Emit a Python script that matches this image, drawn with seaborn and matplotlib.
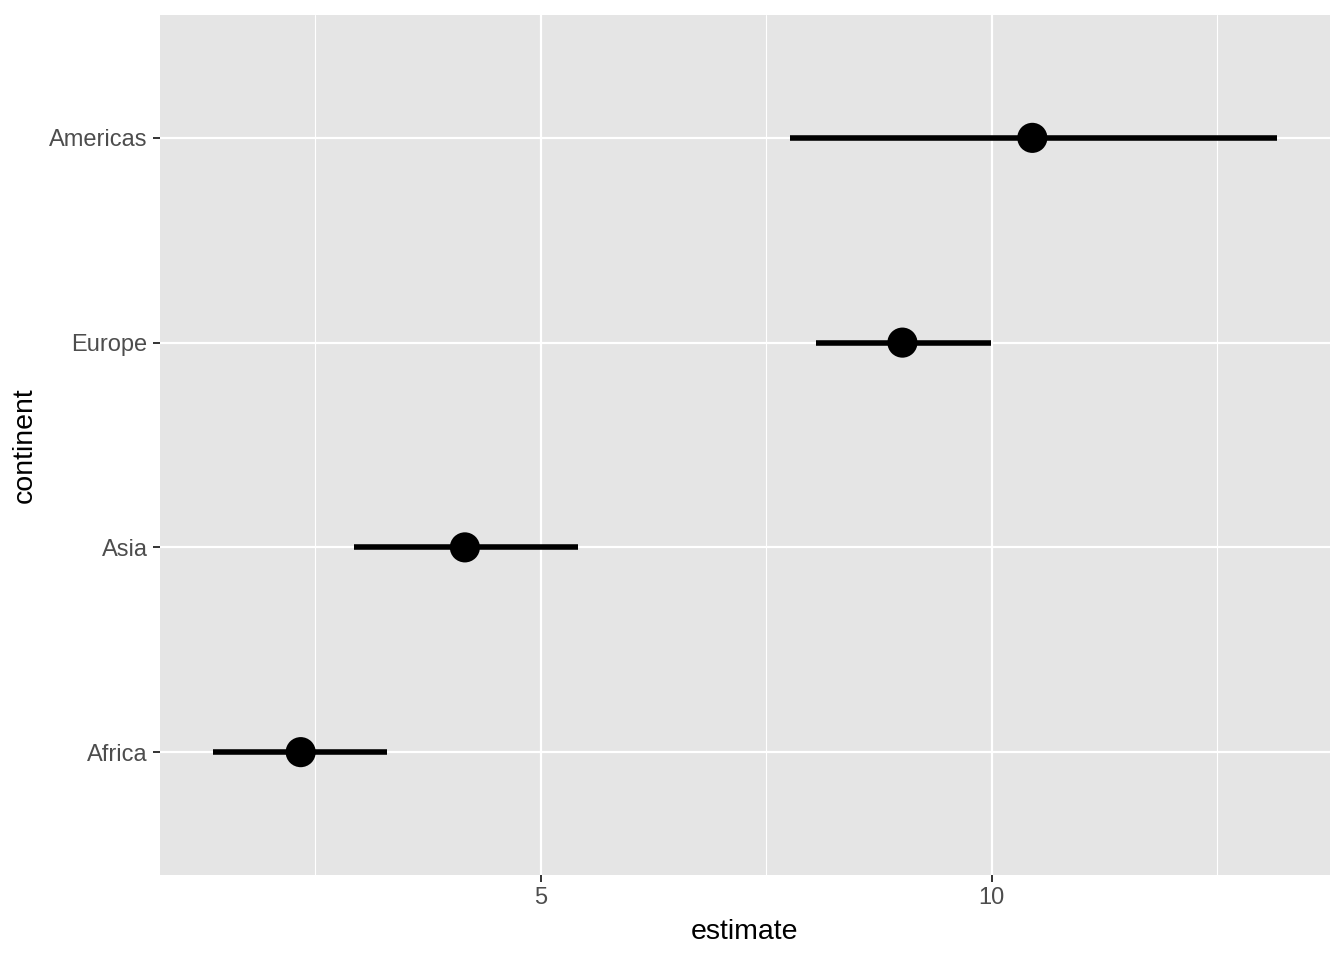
import numpy as np
import matplotlib
matplotlib.use('Agg')
import matplotlib.pyplot as plt
import seaborn as sns
from matplotlib.ticker import MultipleLocator

# 数据
continents = ['Africa', 'Asia', 'Europe', 'Americas']
estimate = [2.34, 4.16, 9.01, 10.45]
lower = [1.37, 2.93, 8.05, 7.76]
upper = [3.30, 5.41, 9.99, 13.16]

sns.set_style('darkgrid', {'axes.facecolor': '#E5E5E5', 'grid.color': 'white'})
plt.rcParams['font.family'] = ['Liberation Sans', 'DejaVu Sans']

fig = plt.figure(figsize=(13.44, 9.6), dpi=100)
ax = fig.add_axes([160 / 1344, 1 - 875 / 960, 1170 / 1344, 860 / 960])

ypos = np.arange(len(continents))
ax.hlines(ypos, lower, upper, color='black', linewidth=4, zorder=3)
sns.scatterplot(x=estimate, y=ypos, color='black', s=470, edgecolor='none', ax=ax, zorder=4)

# 坐标轴范围（ggplot 风格扩展）
span = max(upper) - min(lower)
ax.set_xlim(min(lower) - 0.05 * span, max(upper) + 0.05 * span)
ax.set_ylim(-0.6, len(continents) - 0.4)

ax.xaxis.set_major_locator(MultipleLocator(5))
ax.xaxis.set_minor_locator(MultipleLocator(2.5))
ax.set_yticks(ypos)
ax.set_yticklabels(continents)

ax.grid(which='major', color='white', linewidth=1.6)
ax.grid(which='minor', axis='x', color='white', linewidth=0.8)
for s in ax.spines.values():
    s.set_visible(False)

ax.tick_params(axis='both', which='major', bottom=True, left=True, length=5, width=1.4,
               color='#333333', labelsize=17, labelcolor='#4D4D4D', pad=4)
ax.tick_params(axis='x', which='minor', bottom=False, length=0)

ax.set_xlabel('estimate', fontsize=20.5, color='black', labelpad=7)
ax.set_ylabel('continent', fontsize=20.5, color='black', labelpad=8)

fig.savefig('out.png', dpi=100)
